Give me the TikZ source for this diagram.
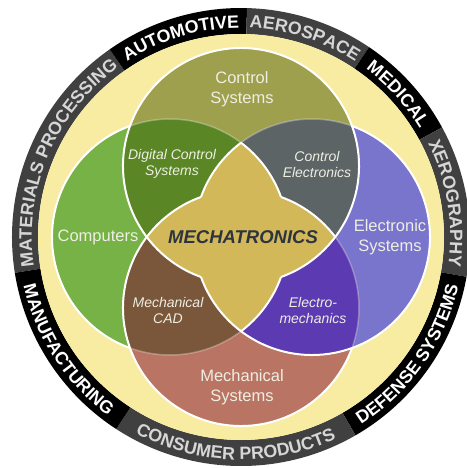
\documentclass[tikz,border=0pt]{standalone}
\usepackage{fontspec}
\setmainfont{Liberation Sans}
\usetikzlibrary{decorations.text}

\definecolor{bgyellow}{RGB}{247,236,162}
\definecolor{ringgray}{RGB}{64,64,64}
\definecolor{ringtxt}{RGB}{214,214,214}
\definecolor{ctrlcol}{RGB}{158,160,78}
\definecolor{compcol}{RGB}{118,178,70}
\definecolor{eleccol}{RGB}{121,116,204}
\definecolor{mechcol}{RGB}{186,116,100}
\definecolor{dcscol}{RGB}{90,134,38}
\definecolor{cecol}{RGB}{93,100,102}
\definecolor{cadcol}{RGB}{122,86,58}
\definecolor{emcol}{RGB}{92,58,178}
\definecolor{mtcol}{RGB}{210,184,88}
\definecolor{mttxt}{RGB}{45,52,64}
\definecolor{labeltxt}{RGB}{238,238,226}

\newcommand{\ringfont}{\bfseries\fontsize{17.8}{18}\selectfont}

\tikzset{
  venn line/.style={white,line width=2pt},
  venn faint/.style={white,line width=1.5pt,opacity=0.3},
  main label/.style={text=labeltxt,font=\fontsize{16.5}{20}\selectfont,align=center},
  pair label/.style={text=labeltxt,font=\itshape\fontsize{14}{16}\selectfont,align=center},
  core label/.style={text=mttxt,font=\bfseries\itshape\fontsize{18.5}{20}\selectfont},
  ring label/.style 2 args={decorate,decoration={text along path,text align=center,
    text color=#2,text={|\ringfont|#1}}}
}

\begin{document}
\begin{tikzpicture}[x=1pt,y=1pt]
\def\rv{118}% radio de los circulos
\def\dv{71}% distancia de los centros
\def\rin{209.2}% texto superior
\def\rout{222.8}% texto inferior
\useasboundingbox (-241,-231) rectangle (225,237);

\coordinate (T) at (0,\dv);
\coordinate (B) at (0,-\dv);
\coordinate (L) at (-\dv,0);
\coordinate (R) at (\dv,0);

%Anillo exterior
\foreach \a/\b/\col in {125/189/ringgray,88.5/125/black,56/88.5/ringgray,28.6/56/black,
    -10/28.6/ringgray,-60/-10/black,-123/-60/ringgray,189/237/black}{
    \fill[\col] (\a:229) arc[start angle=\a,end angle=\b,radius=229]
        -- (\b:203) arc[start angle=\b,end angle=\a,radius=203] -- cycle;
}
\fill[bgyellow] (0,0) circle[radius=203];

%Circulos
\fill[ctrlcol] (T) circle[radius=\rv];
\fill[compcol] (L) circle[radius=\rv];
\fill[eleccol] (R) circle[radius=\rv];
\fill[mechcol] (B) circle[radius=\rv];
\begin{scope}
    \clip (T) circle[radius=\rv];
    \fill[dcscol] (L) circle[radius=\rv];
    \fill[cecol] (R) circle[radius=\rv];
\end{scope}
\begin{scope}
    \clip (B) circle[radius=\rv];
    \fill[cadcol] (L) circle[radius=\rv];
    \fill[emcol] (R) circle[radius=\rv];
\end{scope}

%Centro
\begin{scope}
    \clip (T) circle[radius=\rv];
    \fill[mtcol] (B) circle[radius=\rv];
\end{scope}
\begin{scope}
    \clip (L) circle[radius=\rv];
    \fill[mtcol] (R) circle[radius=\rv];
\end{scope}

%Bordes
\draw[venn faint] (L) ++(53:\rv) arc[start angle=53,end angle=109.8,radius=\rv];
\draw[venn faint] (L) ++(-109.8:\rv) arc[start angle=-109.8,end angle=-53,radius=\rv];
\draw[venn faint] (R) ++(70.2:\rv) arc[start angle=70.2,end angle=127,radius=\rv];
\draw[venn faint] (B) ++(-19.8:\rv) arc[start angle=-19.8,end angle=37,radius=\rv];
\draw[venn line] (T) ++(-70.2:\rv) arc[start angle=-70.2,end angle=250.2,radius=\rv];
\draw[venn line] (B) ++(109.8:\rv) arc[start angle=109.8,end angle=340.2,radius=\rv];
\draw[venn line] (B) ++(37:\rv) arc[start angle=37,end angle=70.2,radius=\rv];
\draw[venn line] (L) ++(109.8:\rv) arc[start angle=109.8,end angle=250.2,radius=\rv];
\draw[venn line] (L) ++(19.8:\rv) arc[start angle=19.8,end angle=53,radius=\rv];
\draw[venn line] (L) ++(-53:\rv) arc[start angle=-53,end angle=-19.8,radius=\rv];
\draw[venn line] (R) ++(-70.2:\rv) arc[start angle=-70.2,end angle=70.2,radius=\rv];
\draw[venn line] (R) ++(127:\rv) arc[start angle=127,end angle=160.2,radius=\rv];
\draw[venn line] (R) ++(199.8:\rv) arc[start angle=199.8,end angle=289.8,radius=\rv];

%Etiquetas
\node[main label] (ctrl) at (1,148) {Control\\Systems};
\node[main label] (comp) at (-143,0) {Computers};
\node[main label] (elec) at (149,0) {Electronic\\Systems};
\node[main label] (mech) at (1,-150) {Mechanical\\Systems};
\node[pair label] (dcs) at (-69,73) {Digital Control\\Systems};
\node[pair label] (ce) at (76,73) {Control\\Electronics};
\node[pair label] (cad) at (-73,-73) {Mechanical\\CAD};
\node[pair label] (em) at (72,-73) {Electro-\\mechanics};
\node[core label] (mt) at (2,0) {MECHATRONICS};

%Texto del anillo
\path[ring label={MATERIALS PROCESSING}{ringtxt}] (192:\rin) arc[start angle=192,end angle=122,radius=\rin];
\path[ring label={AUTOMOTIVE}{white}] (127:\rin) arc[start angle=127,end angle=86.5,radius=\rin];
\path[ring label={AEROSPACE}{ringtxt}] (90.5:\rin) arc[start angle=90.5,end angle=54,radius=\rin];
\path[ring label={MEDICAL}{white}] (56:\rin) arc[start angle=56,end angle=28.6,radius=\rin];
\path[ring label={XEROGRAPHY}{ringtxt}] (28.6:\rin) arc[start angle=28.6,end angle=-10,radius=\rin];
\path[ring label={MANUFACTURING}{white}] (189:\rout) arc[start angle=189,end angle=237,radius=\rout];
\path[ring label={CONSUMER PRODUCTS}{ringtxt}] (237:\rout) arc[start angle=237,end angle=300,radius=\rout];
\path[ring label={DEFENSE SYSTEMS}{white}] (300:\rout) arc[start angle=300,end angle=350,radius=\rout];
\end{tikzpicture}
\end{document}
